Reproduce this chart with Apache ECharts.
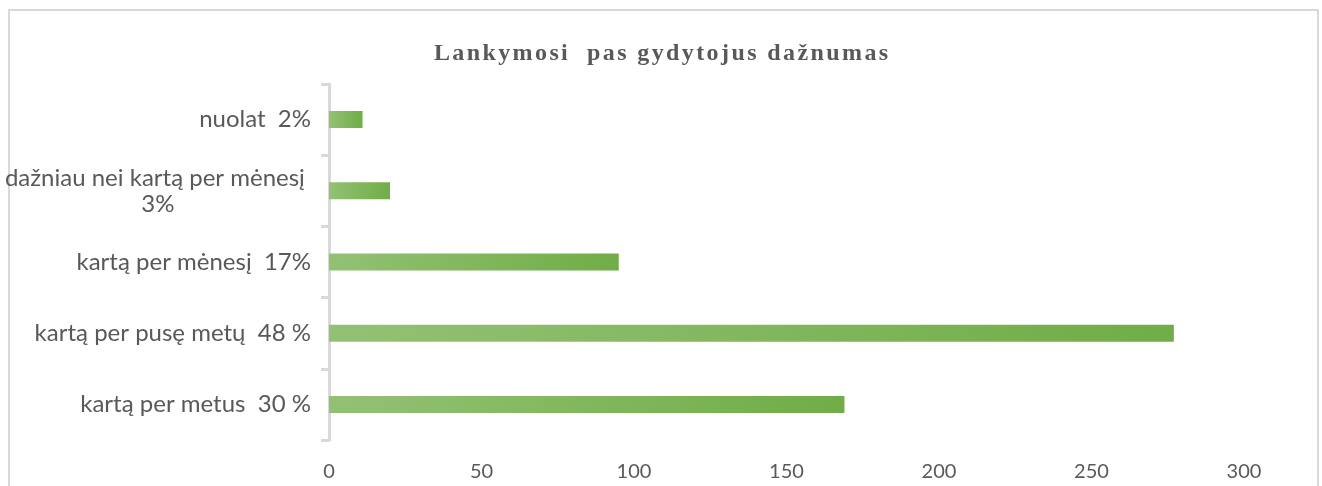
<!DOCTYPE html>
<html>
<head>
<meta charset="utf-8">
<script src="https://cdn.jsdelivr.net/npm/echarts@6/dist/echarts.min.js"></script>
<style>
  html, body { margin: 0; padding: 0; background: #fff; }
  #chart { width: 1322px; height: 486px; }
</style>
</head>
<body>
<div id="chart"></div>
<script>
// kategorijos (nuo apačios į viršų) ir reikšmės
const categories = [
  'kartą per metus  30 %',
  'kartą per pusę metų  48 %',
  'kartą per mėnesį  17%',
  'dažniau nei kartą per mėnesį \n3%',
  'nuolat  2%'
];
const values = [169, 277, 95, 20, 11];
const xTicks = { min: 0, max: 300, interval: 50 };
const titleText = 'Lankymosi  pas gydytojus dažnumas';

const textColor = '#595959';
const chart = echarts.init(document.getElementById('chart'));

// pavadinimas su retintomis raidėmis (kiekviena raidė atskiras rich fragmentas)
const spacedTitle = titleText.split('').map(ch => '{s|' + ch + '}').join('');

chart.setOption({
  animation: false,
  title: {
    text: spacedTitle,
    left: 'center',
    top: 37,
    textStyle: {
      fontFamily: 'Liberation Serif',
      fontWeight: 'bold',
      fontSize: 24,
      color: textColor,
      rich: {
        s: {
          fontFamily: 'Liberation Serif',
          fontWeight: 'bold',
          fontSize: 24,
          color: textColor,
          padding: [0, 1.2, 0, 1.2]
        }
      }
    }
  },
  graphic: [{
    type: 'rect',
    shape: { x: 9, y: 10, width: 1309, height: 500 },
    style: { fill: 'none', stroke: '#d9d9d9', lineWidth: 2 },
    silent: true
  }],
  grid: { left: 329, right: 78, top: 84, bottom: 46, containLabel: false },
  xAxis: {
    type: 'value',
    min: xTicks.min,
    max: xTicks.max,
    interval: xTicks.interval,
    axisLine: { show: false },
    axisTick: { show: false },
    splitLine: { show: false },
    axisLabel: {
      color: textColor,
      fontFamily: 'Lato',
      fontSize: 20,
      margin: 22
    }
  },
  yAxis: {
    type: 'category',
    data: categories,
    axisLine: { show: true, lineStyle: { color: '#d9d9d9', width: 3 } },
    axisTick: { show: true, length: 8, lineStyle: { color: '#d9d9d9', width: 3 } },
    axisLabel: {
      color: textColor,
      fontFamily: 'Lato',
      fontSize: 24,
      margin: 18,
      formatter: v => v.indexOf('\n') >= 0 ? '{c|' + v + '}' : v,
      rich: {
        c: { align: 'center', color: textColor, fontFamily: 'Lato', fontSize: 24, lineHeight: 26 }
      }
    }
  },
  series: [{
    type: 'bar',
    data: values,
    barWidth: 17,
    itemStyle: {
      color: new echarts.graphic.LinearGradient(0, 0, 1, 0, [
        { offset: 0, color: '#93c174' },
        { offset: 1, color: '#70ad47' }
      ])
    }
  }]
});
</script>
</body>
</html>
